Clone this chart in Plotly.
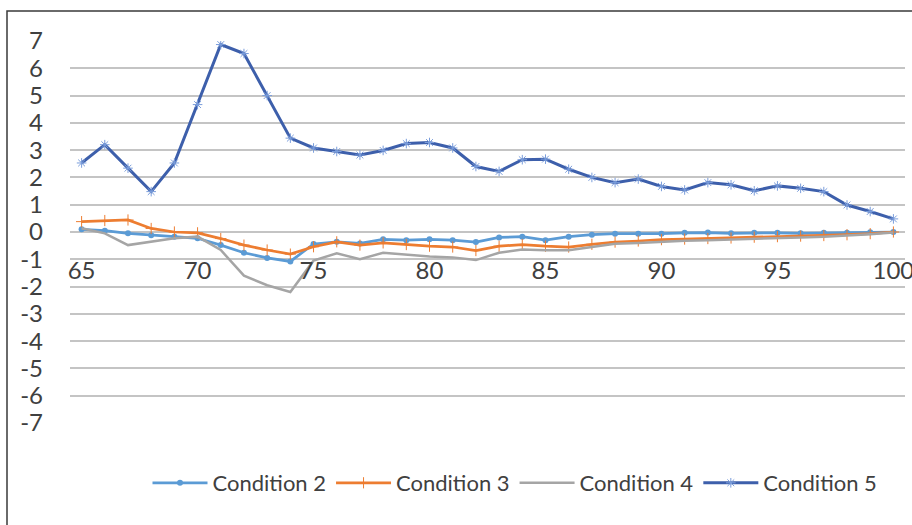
import plotly.graph_objects as go

x_vals = list(range(65, 101))

cond2 = [0.10, 0.05, -0.05, -0.12, -0.17, -0.23, -0.48, -0.76, -0.95, -1.08,
         -0.44, -0.36, -0.42, -0.27, -0.30, -0.27, -0.30, -0.37, -0.20, -0.17,
         -0.30, -0.17, -0.10, -0.06, -0.06, -0.06, -0.03, -0.02, -0.05, -0.03,
         -0.03, -0.05, -0.03, -0.03, -0.01, 0.00]
cond3 = [0.38, 0.42, 0.44, 0.13, 0.00, -0.03, -0.24, -0.48, -0.66, -0.81,
         -0.54, -0.36, -0.48, -0.40, -0.46, -0.52, -0.55, -0.68, -0.52, -0.46,
         -0.52, -0.55, -0.45, -0.37, -0.33, -0.28, -0.26, -0.24, -0.22, -0.19,
         -0.17, -0.15, -0.13, -0.10, -0.06, 0.00]
cond4 = [0.14, -0.05, -0.48, -0.36, -0.23, -0.17, -0.66, -1.60, -1.95, -2.20,
         -1.05, -0.78, -1.00, -0.76, -0.83, -0.90, -0.93, -1.03, -0.76, -0.64,
         -0.67, -0.67, -0.55, -0.43, -0.40, -0.35, -0.32, -0.30, -0.28, -0.25,
         -0.22, -0.20, -0.17, -0.13, -0.08, -0.02]
cond5 = [2.53, 3.20, 2.34, 1.48, 2.53, 4.67, 6.87, 6.54, 5.00, 3.44,
         3.08, 2.95, 2.82, 2.99, 3.24, 3.28, 3.08, 2.40, 2.22, 2.65,
         2.67, 2.30, 2.00, 1.81, 1.94, 1.67, 1.54, 1.81, 1.73, 1.51,
         1.69, 1.60, 1.48, 0.99, 0.75, 0.48]

series_names = ["Condition 2", "Condition 3", "Condition 4", "Condition 5"]
x_ticks = [65, 70, 75, 80, 85, 90, 95, 100]
y_ticks = list(range(-7, 8))
y_tick_text = [str(v) for v in y_ticks]  # plain hyphen minus like the original

FONT = "Lato, 'Open Sans', sans-serif"
TXT = "#404040"

fig = go.Figure()
fig.add_trace(go.Scatter(
    x=x_vals, y=cond2, name=series_names[0], mode="lines+markers",
    line=dict(color="#5B9BD5", width=2.75),
    marker=dict(symbol="circle", size=6, color="#5B9BD5")))
fig.add_trace(go.Scatter(
    x=x_vals, y=cond3, name=series_names[1], mode="lines+markers",
    line=dict(color="#ED7D31", width=2.75),
    marker=dict(symbol="cross-thin", size=8, color="#ED7D31",
                line=dict(color="#ED7D31", width=1))))
fig.add_trace(go.Scatter(
    x=x_vals, y=cond4, name=series_names[2], mode="lines",
    line=dict(color="#A5A5A5", width=2.5)))
fig.add_trace(go.Scatter(
    x=x_vals, y=cond5, name=series_names[3], mode="lines+markers",
    line=dict(color="#3D5FAB", width=3),
    marker=dict(symbol="asterisk-open", size=8, color="#7A9DDB",
                line=dict(color="#7A9DDB", width=1))))

L, R, T, B = 70, 7, 41, 102
W, H = 912, 525
pw, ph = W - L - R, H - T - B

def px_x(p):
    return (p - L) / pw

def px_y(p):
    return (H - B - p) / ph

fig.update_layout(
    width=W, height=H,
    margin=dict(l=L, r=R, t=T, b=B, autoexpand=False),
    paper_bgcolor="white", plot_bgcolor="white",
    font=dict(family=FONT, color=TXT, size=24),
    showlegend=True,
    legend=dict(orientation="h", x=px_x(515), xanchor="center",
                y=px_y(483), yanchor="middle",
                font=dict(size=22, color=TXT, family=FONT),
                itemwidth=55, tracegroupgap=0),
    xaxis=dict(range=[64.5, 100.5], tickvals=x_ticks, showgrid=False,
               zeroline=False, showline=False, anchor="free", position=0.5,
               ticks="", ticklabelstandoff=22, ticklabeloverflow="allow",
               automargin=False,
               tickfont=dict(size=24, color=TXT, family=FONT)),
    yaxis=dict(range=[-7, 7], tickvals=y_ticks, ticktext=y_tick_text,
               showgrid=True, gridcolor="#C4C4C4", gridwidth=1.6,
               zeroline=False, showline=False, ticks="", ticklabelstandoff=26,
               automargin=False,
               tickfont=dict(size=24, color=TXT, family=FONT)),
    shapes=[dict(type="rect", xref="paper", yref="paper",
                 x0=px_x(7), x1=px_x(930), y0=px_y(560), y1=px_y(11),
                 line=dict(color="#3A3A3A", width=1.5), fillcolor="rgba(0,0,0,0)",
                 layer="below")],
)

fig.write_html("out.html")
